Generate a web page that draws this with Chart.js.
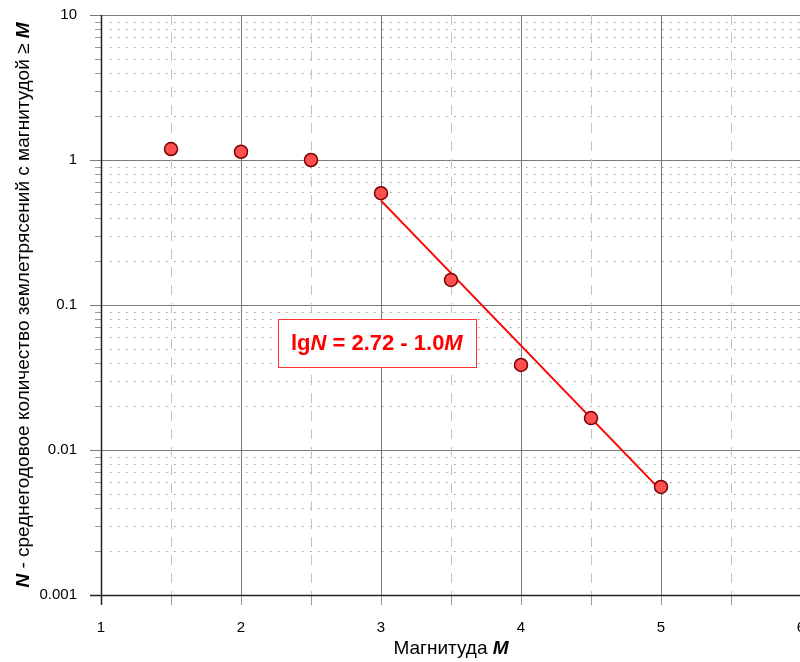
<!DOCTYPE html>
<html>
<head>
<meta charset="utf-8">
<script src="https://cdn.jsdelivr.net/npm/chart.js@4"></script>
<style>
  html, body { margin: 0; padding: 0; background: #fff; overflow: hidden; }
  #wrap { width: 820px; height: 662px; }
</style>
</head>
<body>
<div id="wrap"><canvas id="chart" width="820" height="662"></canvas></div>
<script>
// Data
const magnitudes = [1.5, 2, 2.5, 3, 3.5, 4, 4.5, 5];
const meanCounts = [1.19, 1.14, 1.0, 0.59, 0.149, 0.0386, 0.0166, 0.00556];
const fitMagnitudes = [3, 5];
const fitCounts = [0.525, 0.00525];

// Axis ticks
const xTicks = [1, 1.5, 2, 2.5, 3, 3.5, 4, 4.5, 5, 5.5, 6];
const xTickLabels = ['1', '', '2', '', '3', '', '4', '', '5', '', '6'];
const yDecades = [0.001, 0.01, 0.1, 1, 10];
const yTickLabels = ['0.001', '0.01', '0.1', '1', '10'];
const yMinorSteps = [2, 3, 4, 5, 6, 7, 8, 9];

const equation = [
  { text: 'lg', italic: false },
  { text: 'N', italic: true },
  { text: ' = 2.72 - 1.0', italic: false },
  { text: 'M', italic: true }
];
const equationAt = { x: 2.97, y: 0.0547 };

const FONT = '"Liberation Sans", Arial, sans-serif';

// full list of y tick values (decades + minor steps between them)
const yTickValues = [];
yDecades.forEach((d, i) => {
  yTickValues.push(d);
  if (i < yDecades.length - 1) yMinorSteps.forEach(s => yTickValues.push(+(d * s).toPrecision(3)));
});

function decadeIndex(v) {
  return yDecades.findIndex(d => Math.abs(v - d) / d < 1e-6);
}

function crisp(v) { return Math.round(v) + 0.5; }

// draws mixed-style text centred on x, middle baseline
function drawParts(ctx, parts, size, x, y) {
  let total = 0;
  const widths = parts.map(p => { ctx.font = p.style + ' ' + size + 'px ' + FONT; const w = ctx.measureText(p.text).width; total += w; return w; });
  let cx = x - total / 2;
  ctx.textAlign = 'left';
  ctx.textBaseline = 'middle';
  parts.forEach((p, i) => {
    ctx.font = p.style + ' ' + size + 'px ' + FONT;
    ctx.fillText(p.text, cx, y);
    cx += widths[i];
  });
  return total;
}

const gridPlugin = {
  id: 'gridPlugin',
  beforeDatasetsDraw(chart) {
    const ctx = chart.ctx;
    const a = chart.chartArea;
    const xs = chart.scales.x;
    const ys = chart.scales.y;
    ctx.save();
    ctx.lineWidth = 1;

    // horizontal lines
    yTickValues.forEach(v => {
      const y = crisp(ys.getPixelForValue(v));
      const major = decadeIndex(v) >= 0;
      ctx.beginPath();
      if (major) {
        ctx.setLineDash([]);
        ctx.strokeStyle = '#7a7a7a';
        ctx.moveTo(a.left - 11, y);
        ctx.lineTo(a.right, y);
        ctx.stroke();
      } else {
        ctx.setLineDash([1.5, 6.5]);
        ctx.strokeStyle = '#999';
        ctx.moveTo(a.left + 9, y);
        ctx.lineTo(a.right, y);
        ctx.stroke();
        ctx.setLineDash([]);
        ctx.strokeStyle = '#9a9a9a';
        ctx.beginPath();
        ctx.moveTo(a.left - 6, y);
        ctx.lineTo(a.left, y);
        ctx.stroke();
      }
    });

    // vertical lines
    xTicks.forEach(v => {
      const x = crisp(xs.getPixelForValue(v));
      ctx.beginPath();
      if (Number.isInteger(v)) {
        ctx.setLineDash([]);
        ctx.strokeStyle = '#7a7a7a';
      } else {
        ctx.setLineDash([10, 8]);
        ctx.strokeStyle = '#c4c4c4';
      }
      ctx.moveTo(x, a.top);
      ctx.lineTo(x, a.bottom);
      ctx.stroke();
    });

    // axis lines
    ctx.setLineDash([]);
    ctx.strokeStyle = '#222';
    ctx.lineWidth = 1.5;
    ctx.beginPath();
    ctx.moveTo(crisp(a.left), a.top);
    ctx.lineTo(crisp(a.left), a.bottom + 10);
    ctx.moveTo(a.left - 11, crisp(a.bottom));
    ctx.lineTo(a.right, crisp(a.bottom));
    ctx.stroke();
    ctx.restore();
  },
  afterDraw(chart) {
    const ctx = chart.ctx;
    const a = chart.chartArea;

    // x axis title
    ctx.save();
    ctx.fillStyle = '#000';
    drawParts(ctx, [
      { text: 'Магнитуда ', style: 'normal' },
      { text: 'M', style: 'italic bold' }
    ], 19, (a.left + a.right) / 2, 649);
    ctx.restore();

    // y axis title, rotated
    ctx.save();
    ctx.fillStyle = '#000';
    ctx.translate(24, (a.top + a.bottom) / 2);
    ctx.rotate(-Math.PI / 2);
    drawParts(ctx, [
      { text: 'N', style: 'italic bold' },
      { text: ' - среднегодовое количество землетрясений с магнитудой ≥ ', style: 'normal' },
      { text: 'M', style: 'italic bold' }
    ], 19, 0, 0);
    ctx.restore();

    // equation box
    ctx.save();
    const cx = chart.scales.x.getPixelForValue(equationAt.x);
    const cy = chart.scales.y.getPixelForValue(equationAt.y);
    const parts = equation.map(p => ({ text: p.text, style: (p.italic ? 'italic ' : '') + 'bold' }));
    let total = 0;
    parts.forEach(p => { ctx.font = p.style + ' 22px ' + FONT; total += ctx.measureText(p.text).width; });
    const w = total + 26, h = 48;
    ctx.fillStyle = '#fff';
    ctx.fillRect(cx - w / 2, cy - h / 2, w, h);
    ctx.strokeStyle = '#ff3030';
    ctx.lineWidth = 1;
    ctx.strokeRect(crisp(cx - w / 2), crisp(cy - h / 2), Math.round(w), Math.round(h));
    ctx.fillStyle = '#ff0000';
    drawParts(ctx, parts, 22, cx, cy + 1);
    ctx.restore();
  }
};

new Chart(document.getElementById('chart'), {
  type: 'scatter',
  data: {
    datasets: [
      {
        label: 'N',
        data: magnitudes.map((m, i) => ({ x: m, y: meanCounts[i] })),
        pointRadius: 6.5,
        pointBackgroundColor: '#ff5050',
        pointBorderColor: '#7a0000',
        pointBorderWidth: 1.5,
        showLine: false
      },
      {
        label: 'fit',
        data: fitMagnitudes.map((m, i) => ({ x: m, y: fitCounts[i] })),
        showLine: true,
        borderColor: '#ff0000',
        borderWidth: 2,
        pointRadius: 0
      }
    ]
  },
  options: {
    responsive: false,
    animation: false,
    events: [],
    layout: { padding: { top: 15, right: 19, bottom: 0, left: 0 } },
    plugins: { legend: { display: false }, tooltip: { enabled: false } },
    scales: {
      x: {
        type: 'linear',
        min: 1,
        max: 6,
        afterBuildTicks: s => { s.ticks = xTicks.map(v => ({ value: v })); },
        afterFit: s => { s.height = 67; s.paddingLeft = 0; s.paddingRight = 0; },
        border: { display: false },
        grid: { drawOnChartArea: false, drawTicks: true, tickLength: 10, tickColor: '#999', color: '#999' },
        ticks: {
          autoSkip: false,
          maxRotation: 0,
          padding: 14,
          color: '#000',
          font: { family: FONT, size: 15 },
          callback: (v) => { const i = xTicks.indexOf(v); return i >= 0 ? xTickLabels[i] : ''; }
        }
      },
      y: {
        type: 'logarithmic',
        min: 0.001,
        max: 10,
        afterBuildTicks: s => { s.ticks = yTickValues.map(v => ({ value: v })); },
        afterFit: s => { s.width = 101; s.paddingTop = 0; s.paddingBottom = 0; },
        border: { display: false },
        grid: { display: false, drawTicks: false },
        ticks: {
          autoSkip: false,
          padding: 24,
          color: '#000',
          font: { family: FONT, size: 15 },
          callback: (v) => { const i = decadeIndex(v); return i >= 0 ? yTickLabels[i] : ''; }
        }
      }
    }
  },
  plugins: [gridPlugin]
});
</script>
</body>
</html>
